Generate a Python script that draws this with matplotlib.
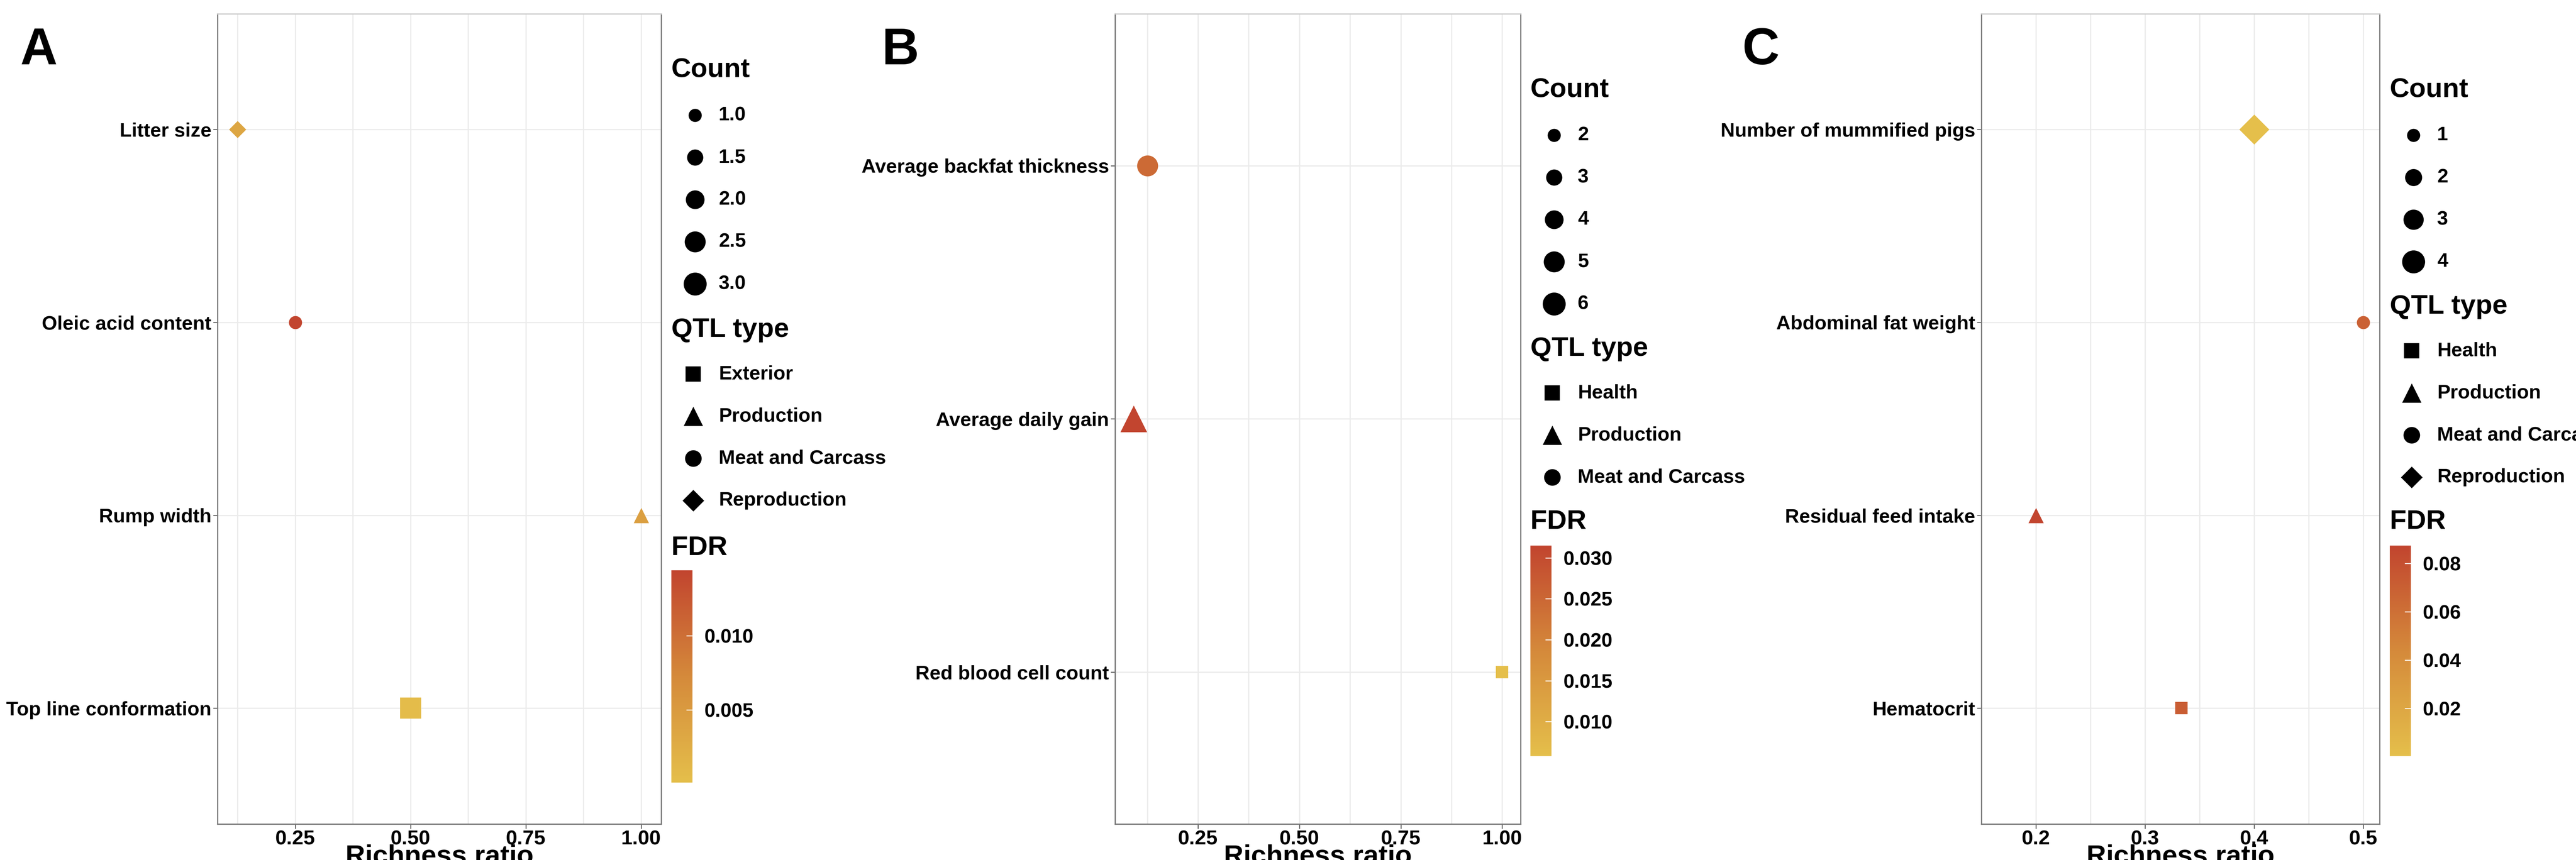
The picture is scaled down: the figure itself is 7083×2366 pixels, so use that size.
import numpy as np
import matplotlib
matplotlib.use('Agg')
import matplotlib.pyplot as plt
from matplotlib.colors import LinearSegmentedColormap, Normalize

plt.rcParams['font.family'] = ['Liberation Sans', 'DejaVu Sans']
plt.rcParams['font.weight'] = 'bold'

# ---- data ----
a_traits = ['Litter size', 'Oleic acid content', 'Rump width', 'Top line conformation']
a_ratio = [0.125, 0.25, 1.0, 0.5]
a_count = [1, 1, 1, 3]
a_fdr = [0.0035, 0.0144, 0.0045, 0.0005]
a_type = ['Reproduction', 'Meat and Carcass', 'Production', 'Exterior']
a_types = ['Exterior', 'Production', 'Meat and Carcass', 'Reproduction']
a_count_ticks = ['1.0', '1.5', '2.0', '2.5', '3.0']
a_fdr_ticks = [0.005, 0.010]
a_fdr_range = (0.0001, 0.0144)

b_traits = ['Average backfat thickness', 'Average daily gain', 'Red blood cell count']
b_ratio = [0.125, 0.0909, 1.0]
b_count = [5, 6, 2]
b_fdr = [0.0245, 0.0315, 0.0058]
b_type = ['Meat and Carcass', 'Production', 'Health']
b_types = ['Health', 'Production', 'Meat and Carcass']
b_count_ticks = ['2', '3', '4', '5', '6']
b_fdr_ticks = [0.010, 0.015, 0.020, 0.025, 0.030]
b_fdr_range = (0.0058, 0.0315)

c_traits = ['Number of mummified pigs', 'Abdominal fat weight', 'Residual feed intake', 'Hematocrit']
c_ratio = [0.4, 0.5, 0.2, 0.3333]
c_count = [4, 1, 1, 1]
c_fdr = [0.0003, 0.070, 0.0874, 0.072]
c_type = ['Reproduction', 'Meat and Carcass', 'Production', 'Health']
c_types = ['Health', 'Production', 'Meat and Carcass', 'Reproduction']
c_count_ticks = ['1', '2', '3', '4']
c_fdr_ticks = [0.02, 0.04, 0.06, 0.08]
c_fdr_range = (0.0003, 0.0874)

shapes = {'Exterior': 's', 'Health': 's', 'Production': '^',
          'Meat and Carcass': 'o', 'Reproduction': 'D'}
shape_scale = {'s': 0.85, '^': 1.35, 'o': 1.0, 'D': 0.85}

cmap = LinearSegmentedColormap.from_list('fdr', ['#E5BF4B', '#D58A3B', '#C2452F'])

W, H = 7083, 2366
fig = plt.figure(figsize=(W / 300, H / 300), dpi=300)


def size_of(c, cmin, cmax):
    if cmax == cmin:
        return 75
    return 75 + (c - cmin) / (cmax - cmin) * (230 - 75)


def panel(letter, rect, traits, ratio, count, fdr, qtype, types, count_ticks,
          fdr_ticks, fdr_range, xticks, xfmt, leg):
    ax = fig.add_axes(rect)
    norm = Normalize(*fdr_range)
    n = len(traits)
    ypos = np.arange(n)[::-1]
    cvals = [float(t) for t in count_ticks]
    cmin, cmax = min(cvals), max(cvals)
    for i in range(n):
        m = shapes[qtype[i]]
        ax.scatter(ratio[i], ypos[i], marker=m,
                   s=size_of(count[i], cmin, cmax) * shape_scale[m],
                   color=cmap(norm(fdr[i])), linewidths=0, zorder=3)
    lo, hi = min(ratio), max(ratio)
    pad = (hi - lo) * 0.05
    ax.set_xlim(lo - pad, hi + pad)
    ax.set_ylim(-0.6, n - 1 + 0.6)
    ax.set_yticks(ypos)
    ax.set_yticklabels(traits, fontsize=13, fontweight='bold')
    ax.set_xticks(xticks)
    ax.set_xticklabels([xfmt.format(v) for v in xticks], fontsize=13.5, fontweight='bold')
    mid = [(xticks[i] + xticks[i + 1]) / 2 for i in range(len(xticks) - 1)]
    mid = [xticks[0] - (xticks[1] - xticks[0]) / 2] + mid
    ax.set_xticks(mid, minor=True)
    ax.grid(True, which='both', color='#EBEBEB', lw=0.8)
    ax.tick_params(axis='both', which='major', length=3, width=0.6, color='#555555', pad=1)
    ax.tick_params(axis='x', which='minor', length=0)
    ax.set_axisbelow(True)
    for s in ax.spines.values():
        s.set_color('#777777')
        s.set_linewidth(0.8)
    ax.spines['top'].set_color('#CCCCCC')
    ax.set_xlabel('Richness ratio', fontsize=18, fontweight='bold', labelpad=-3)
    fig.text(leg['letter_x'] / W, 1 - 140 / H, letter, fontsize=34,
             fontweight='bold', va='center', ha='left')

    # legends drawn on a pixel-coordinate overlay
    lx = leg['x']
    ov.text(lx, leg['count_y'], 'Count', fontsize=18, fontweight='bold', va='center')
    for k, lab in enumerate(count_ticks):
        y = leg['count_y'] + 125 + k * 116
        ov.scatter(lx + 65, y, s=size_of(cvals[k], cmin, cmax), color='black', marker='o', linewidths=0)
        ov.text(lx + 130, y, lab, fontsize=13, fontweight='bold', va='center')
    ov.text(lx, leg['qtl_y'], 'QTL type', fontsize=18, fontweight='bold', va='center')
    for k, t in enumerate(types):
        y = leg['qtl_y'] + 122 + k * 116
        m = shapes[t]
        ov.scatter(lx + 60, y, s=120 * shape_scale[m], color='black', marker=m, linewidths=0)
        ov.text(lx + 130, y, t, fontsize=13, fontweight='bold', va='center')
    ov.text(lx, leg['fdr_y'], 'FDR', fontsize=18, fontweight='bold', va='center')
    cb_top, cb_bot = leg['cb_y']
    cax = fig.add_axes([lx / W, 1 - cb_bot / H, 58 / W, (cb_bot - cb_top) / H])
    grad = np.linspace(fdr_range[0], fdr_range[1], 256).reshape(-1, 1)
    cax.imshow(grad, aspect='auto', cmap=cmap, norm=norm, origin='lower',
               extent=[0, 1, fdr_range[0], fdr_range[1]])
    cax.set_xticks([])
    cax.yaxis.tick_right()
    cax.set_yticks(fdr_ticks)
    cax.set_yticklabels(['{:.3f}'.format(v) if fdr_range[1] < 0.05 else '{:.2f}'.format(v)
                         for v in fdr_ticks], fontsize=13, fontweight='bold')
    cax.tick_params(axis='y', length=4, width=0.6, color='white', direction='in', pad=8)
    for s in cax.spines.values():
        s.set_visible(False)
    return ax


ov = fig.add_axes([0, 0, 1, 1], zorder=5)
ov.set_xlim(0, W)
ov.set_ylim(H, 0)
ov.axis('off')

panel('A', [598 / W, 0.042, (1818 - 598) / W, 0.942], a_traits, a_ratio, a_count, a_fdr,
      a_type, a_types, a_count_ticks, a_fdr_ticks, a_fdr_range,
      [0.25, 0.5, 0.75, 1.0], '{:.2f}',
      dict(letter_x=55, x=1846, count_y=192, qtl_y=907, fdr_y=1507, cb_y=(1569, 2153)))
panel('B', [3066 / W, 0.042, (4181 - 3066) / W, 0.942], b_traits, b_ratio, b_count, b_fdr,
      b_type, b_types, b_count_ticks, b_fdr_ticks, b_fdr_range,
      [0.25, 0.5, 0.75, 1.0], '{:.2f}',
      dict(letter_x=2425, x=4208, count_y=247, qtl_y=959, fdr_y=1435, cb_y=(1501, 2080)))
panel('C', [5448 / W, 0.042, (6543 - 5448) / W, 0.942], c_traits, c_ratio, c_count, c_fdr,
      c_type, c_types, c_count_ticks, c_fdr_ticks, c_fdr_range,
      [0.2, 0.3, 0.4, 0.5], '{:.1f}',
      dict(letter_x=4790, x=6571, count_y=247, qtl_y=843, fdr_y=1435, cb_y=(1501, 2080)))

fig.savefig('out.png', dpi=300, facecolor='white')
